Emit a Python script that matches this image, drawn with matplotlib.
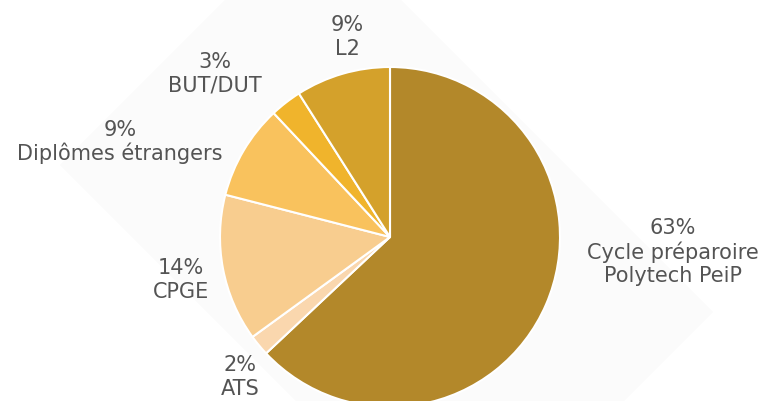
import matplotlib.pyplot as plt
from matplotlib.patches import Polygon

# 数据
labels = ['Cycle préparoire\nPolytech PeiP', 'ATS', 'CPGE', 'Diplômes étrangers', 'BUT/DUT', 'L2']
values = [63, 2, 14, 9, 3, 9]
colors = ['#b3882a', '#fad7ae', '#f8cd8f', '#f9c25d', '#f0b42c', '#d4a12b']

# label positions in pixel coords (x, y from top)
label_pos = [(673, 252), (240, 377), (181, 280), (120, 142), (215, 74), (347, 37)]

W, H = 766, 401
fig = plt.figure(figsize=(W / 100, H / 100), dpi=100)
ax = fig.add_axes([0, 0, 1, 1])

# faint background diamond
bg = Polygon([(313, H + 88), (713, H - 312), (460, H - 565), (60, H - 165)],
             closed=True, facecolor='#fbfbfb', edgecolor='none', zorder=0)
ax.add_patch(bg)

ax.pie(values, colors=colors, startangle=90, counterclock=False,
       center=(390, H - 237), radius=170,
       wedgeprops=dict(edgecolor='white', linewidth=1.5))

for lab, v, (x, y) in zip(labels, values, label_pos):
    ax.text(x, H - y, '%d%%\n%s' % (v, lab), ha='center', va='center',
            fontsize=15, color='#545454', family='DejaVu Sans', linespacing=1.2)

ax.set_xlim(0, W)
ax.set_ylim(0, H)
ax.set_aspect('equal')
ax.axis('off')

fig.savefig('out.png', dpi=100)
